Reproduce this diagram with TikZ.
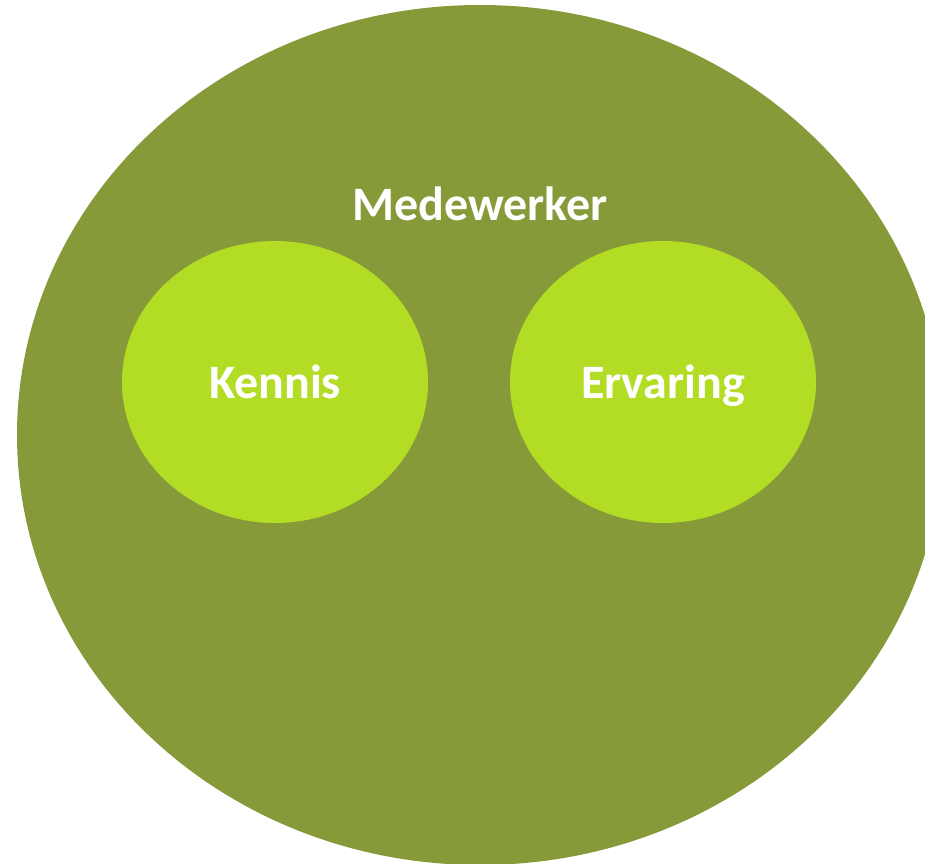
\documentclass[tikz,border=0pt]{standalone}
\usepackage{fontspec}
\setmainfont{Carlito}
\usetikzlibrary{shapes.geometric}
\definecolor{olijf}{HTML}{879A3A}
\definecolor{limoen}{HTML}{B2DD24}
\tikzset{
  blob/.style={ellipse, fill=limoen, inner sep=0pt, minimum width=306pt, minimum height=282pt},
  label/.style={text=white, text height=32pt, text depth=0pt, font=\bfseries\fontsize{48}{56}\selectfont}
}

\begin{document}
\begin{tikzpicture}[x=1pt, y=-1pt]
                        \useasboundingbox (0,0) rectangle (925,863);
                        \clip (0,0) rectangle (925,863);
                        \node[ellipse, fill=olijf, inner sep=0pt, minimum width=926pt, minimum height=860pt] (medewerker) at (480,435) {};
                        \node[label, anchor=base] (titel) at (480,220) {Medewerker};
                        \node[blob, label] (kennis) at (275,382) {Kennis};
                        \node[blob, label] (ervaring) at (663,382) {Ervaring};
                    \end{tikzpicture}
\end{document}
